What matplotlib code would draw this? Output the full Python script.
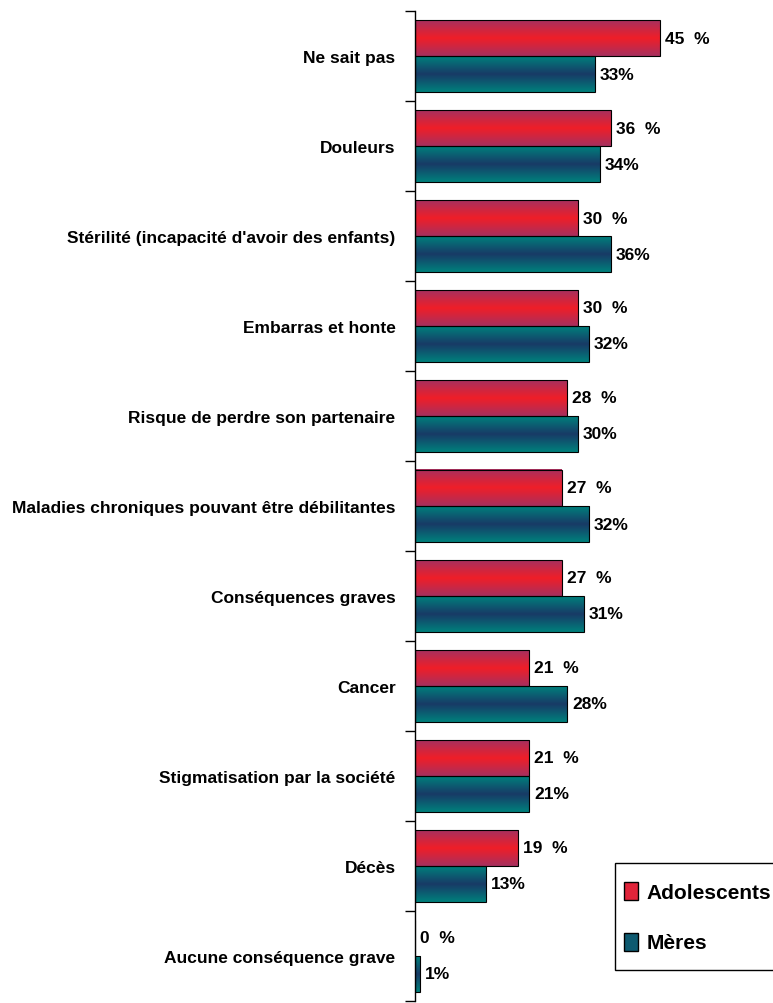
import matplotlib.pyplot as plt
import numpy as np
from matplotlib.patches import Patch, Rectangle
from matplotlib.legend_handler import HandlerPatch
from matplotlib.colors import LinearSegmentedColormap

plt.rcParams['font.family'] = ['Liberation Sans', 'DejaVu Sans']
plt.rcParams['font.weight'] = 'bold'

# données
categories = ['Ne sait pas', 'Douleurs', "Stérilité (incapacité d'avoir des enfants)",
              'Embarras et honte', 'Risque de perdre son partenaire',
              'Maladies chroniques pouvant être débilitantes', 'Conséquences graves',
              'Cancer', 'Stigmatisation par la société', 'Décès', 'Aucune conséquence grave']
adolescents = [45, 36, 30, 30, 28, 27, 27, 21, 21, 19, 0]
meres = [33, 34, 36, 32, 30, 32, 31, 28, 21, 13, 1]

# dégradés verticaux (bord -> centre -> bord)
cmap_red = LinearSegmentedColormap.from_list('r', ['#A8305E', '#F01E28', '#A8305E'])
cmap_teal = LinearSegmentedColormap.from_list('t', ['#00807C', '#183A66', '#00807C'])
grad = np.linspace(0, 1, 64).reshape(-1, 1)

fig = plt.figure(figsize=(7.73, 10.04), dpi=100)
ax = fig.add_axes([415 / 773, 2 / 1004, 358 / 773, 990 / 1004])

y = np.arange(len(categories))
h = 0.4
bars_a = ax.barh(y - h / 2, adolescents, height=h, facecolor='none', edgecolor='black', linewidth=0.8, zorder=3)
bars_m = ax.barh(y + h / 2, meres, height=h, facecolor='none', edgecolor='black', linewidth=0.8, zorder=3)

for bars, cm in [(bars_a, cmap_red), (bars_m, cmap_teal)]:
    for b in bars:
        x0, y0 = b.get_x(), b.get_y()
        w, hh = b.get_width(), b.get_height()
        if w > 0:
            ax.imshow(grad, cmap=cm, aspect='auto', extent=[x0, x0 + w, y0 + hh, y0], zorder=2)

for i in range(len(categories)):
    ax.text(adolescents[i] + 0.9, y[i] - h / 2, f'{adolescents[i]}  %', va='center', ha='left', fontsize=12.5)
    ax.text(meres[i] + 0.9, y[i] + h / 2, f'{meres[i]}%', va='center', ha='left', fontsize=12.5)

ax.set_xlim(0, 358 / 5.44)
ax.set_ylim(len(categories) - 0.5, -0.5)
ax.set_yticks(y)
ax.set_yticklabels(categories, fontsize=12.5, fontweight='bold')
ax.tick_params(axis='y', which='major', length=0, pad=14)
ax.set_yticks(np.arange(-0.5, len(categories), 1), minor=True)
ax.tick_params(axis='y', which='minor', length=7, width=1, direction='out')
ax.set_xticks([])
for s in ['top', 'right', 'bottom']:
    ax.spines[s].set_visible(False)
ax.spines['left'].set_linewidth(1)


# petit carré de légende centré dans une ligne plus haute
def small_square(legend, orig_handle, xdescent, ydescent, width, height, fontsize):
    sq_h = 0.85 * fontsize
    return Rectangle((-xdescent, -ydescent + (height - sq_h) / 2), width, sq_h)


handles = [Patch(facecolor='#E0243A', edgecolor='black', label='Adolescents'),
           Patch(facecolor='#0E5A70', edgecolor='black', label='Mères')]
leg = fig.legend(handles=handles, loc='upper left', bbox_to_anchor=(615 / 773, 1 - 864 / 1004),
                 borderaxespad=0, fancybox=False, edgecolor='black', fontsize=15,
                 handlelength=0.67, handleheight=2.46, handletextpad=0.43, labelspacing=0.58,
                 borderpad=0.43, framealpha=1,
                 handler_map={Patch: HandlerPatch(patch_func=small_square)})
leg.get_frame().set_linewidth(1)

fig.savefig('out.png', dpi=100)
